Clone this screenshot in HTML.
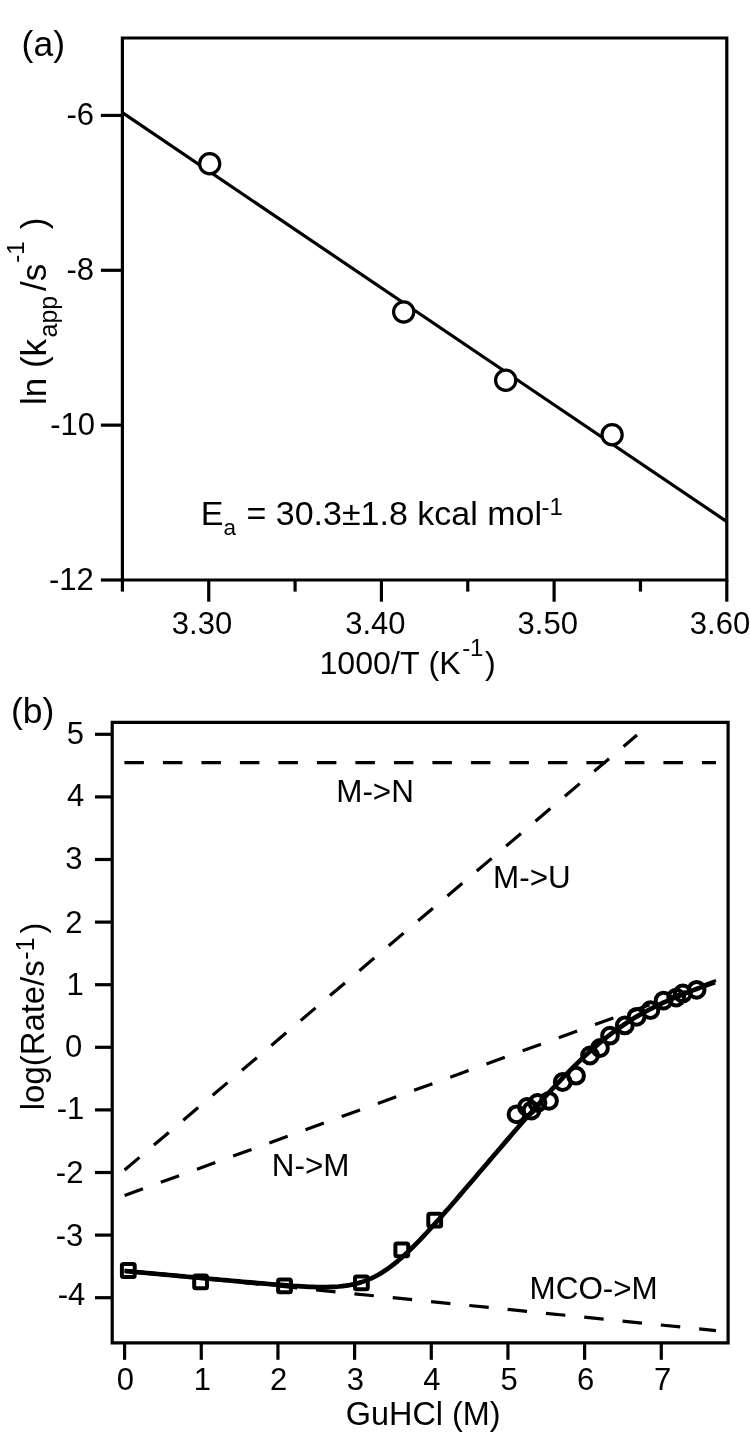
<!DOCTYPE html>
<html><head><meta charset="utf-8"><title>Figure</title>
<style>html,body{margin:0;padding:0;background:#fff;}svg{display:block;}text{font-kerning:none;}</style></head>
<body><svg width="750" height="1435" viewBox="0 0 750 1435" font-family="'Liberation Sans', Arial, Helvetica, sans-serif" fill="#000">
<rect width="750" height="1435" fill="#fff"/>
<path d="M122.4,580.0 V38.0 H726.8 V580.0 Z" fill="none" stroke="#000" stroke-width="3.2"/>
<line x1="122.40" y1="580.0" x2="122.40" y2="591.60" stroke="#000" stroke-width="3.2"/>
<line x1="208.74" y1="580.0" x2="208.74" y2="601.70" stroke="#000" stroke-width="3.2"/>
<line x1="295.09" y1="580.0" x2="295.09" y2="591.60" stroke="#000" stroke-width="3.2"/>
<line x1="381.43" y1="580.0" x2="381.43" y2="601.70" stroke="#000" stroke-width="3.2"/>
<line x1="467.77" y1="580.0" x2="467.77" y2="591.60" stroke="#000" stroke-width="3.2"/>
<line x1="554.11" y1="580.0" x2="554.11" y2="601.70" stroke="#000" stroke-width="3.2"/>
<line x1="640.46" y1="580.0" x2="640.46" y2="591.60" stroke="#000" stroke-width="3.2"/>
<line x1="726.80" y1="580.0" x2="726.80" y2="601.70" stroke="#000" stroke-width="3.2"/>
<line x1="100.9" y1="115.43" x2="122.4" y2="115.43" stroke="#000" stroke-width="3.2"/>
<line x1="100.9" y1="270.29" x2="122.4" y2="270.29" stroke="#000" stroke-width="3.2"/>
<line x1="100.9" y1="425.14" x2="122.4" y2="425.14" stroke="#000" stroke-width="3.2"/>
<line x1="100.9" y1="580.00" x2="122.4" y2="580.00" stroke="#000" stroke-width="3.2"/>
<line x1="122.4" y1="112.7" x2="726.8" y2="521.6" stroke="#000" stroke-width="3.2"/>
<circle cx="209.7" cy="163.8" r="10.1" fill="#fff" stroke="#000" stroke-width="3.2"/>
<circle cx="403.7" cy="312" r="10.1" fill="#fff" stroke="#000" stroke-width="3.2"/>
<circle cx="505.7" cy="380.3" r="10.1" fill="#fff" stroke="#000" stroke-width="3.2"/>
<circle cx="612.1" cy="434.7" r="10.1" fill="#fff" stroke="#000" stroke-width="3.2"/>
<text x="171.85" y="634.47" font-size="31">3.30</text>
<text x="345.20" y="634.27" font-size="31">3.40</text>
<text x="517.55" y="634.37" font-size="31">3.50</text>
<text x="689.80" y="634.37" font-size="31">3.60</text>
<text x="66.46" y="124.92" font-size="31">-6</text>
<text x="66.50" y="279.97" font-size="31">-8</text>
<text x="50.21" y="435.02" font-size="31">-10</text>
<text x="48.99" y="589.97" font-size="31">-12</text>
<text x="21.61" y="56.19" font-size="35.5">(a)</text>
<text><tspan x="319.39" y="674.00" font-size="32.2">1000/T (K</tspan><tspan x="462.13" y="656.40" font-size="24">-1</tspan><tspan x="485.01" y="674.00" font-size="32.2">)</tspan></text>
<text><tspan x="200.81" y="524.80" font-size="34">E</tspan><tspan x="223.44" y="534.90" font-size="22.5">a</tspan><tspan x="237.00" y="524.80" font-size="34"> = 30.3±1.8 kcal mol</tspan><tspan x="541.43" y="515.20" font-size="24">-1</tspan></text>
<text transform="translate(45.9,405) rotate(-90)"><tspan x="0.00" y="0.00" font-size="35">ln (k</tspan><tspan x="67.54" y="11.00" font-size="25">app</tspan><tspan x="114.10" y="0.00" font-size="35">/s</tspan><tspan x="142.33" y="-22.10" font-size="24">-1</tspan><tspan x="175.89" y="0.00" font-size="35">)</tspan></text>
<path d="M112.2,1342.9 V722.3 H728.1 V1342.9 Z" fill="none" stroke="#000" stroke-width="3.2"/>
<line x1="124.60" y1="1342.9" x2="124.60" y2="1359.8" stroke="#000" stroke-width="3.2"/>
<text x="116.78" y="1390.07" font-size="31">0</text>
<line x1="201.27" y1="1342.9" x2="201.27" y2="1359.8" stroke="#000" stroke-width="3.2"/>
<text x="193.84" y="1390.06" font-size="31">1</text>
<line x1="277.94" y1="1342.9" x2="277.94" y2="1359.8" stroke="#000" stroke-width="3.2"/>
<text x="269.98" y="1390.22" font-size="31">2</text>
<line x1="354.61" y1="1342.9" x2="354.61" y2="1359.8" stroke="#000" stroke-width="3.2"/>
<text x="346.87" y="1390.07" font-size="31">3</text>
<line x1="431.28" y1="1342.9" x2="431.28" y2="1359.8" stroke="#000" stroke-width="3.2"/>
<text x="423.28" y="1390.06" font-size="31">4</text>
<line x1="507.95" y1="1342.9" x2="507.95" y2="1359.8" stroke="#000" stroke-width="3.2"/>
<text x="500.41" y="1389.91" font-size="31">5</text>
<line x1="584.62" y1="1342.9" x2="584.62" y2="1359.8" stroke="#000" stroke-width="3.2"/>
<text x="577.07" y="1390.07" font-size="31">6</text>
<line x1="661.29" y1="1342.9" x2="661.29" y2="1359.8" stroke="#000" stroke-width="3.2"/>
<text x="653.96" y="1390.06" font-size="31">7</text>
<line x1="95" y1="1297.70" x2="112.2" y2="1297.70" stroke="#000" stroke-width="3.2"/>
<text x="57.78" y="1305.36" font-size="31">-4</text>
<line x1="95" y1="1235.10" x2="112.2" y2="1235.10" stroke="#000" stroke-width="3.2"/>
<text x="55.76" y="1245.97" font-size="31">-3</text>
<line x1="95" y1="1172.50" x2="112.2" y2="1172.50" stroke="#000" stroke-width="3.2"/>
<text x="55.86" y="1182.87" font-size="31">-2</text>
<line x1="95" y1="1109.90" x2="112.2" y2="1109.90" stroke="#000" stroke-width="3.2"/>
<text x="56.67" y="1118.66" font-size="31">-1</text>
<line x1="95" y1="1047.30" x2="112.2" y2="1047.30" stroke="#000" stroke-width="3.2"/>
<text x="64.88" y="1057.37" font-size="31">0</text>
<line x1="95" y1="984.70" x2="112.2" y2="984.70" stroke="#000" stroke-width="3.2"/>
<text x="66.54" y="995.41" font-size="31">1</text>
<line x1="95" y1="922.10" x2="112.2" y2="922.10" stroke="#000" stroke-width="3.2"/>
<text x="65.18" y="932.67" font-size="31">2</text>
<line x1="95" y1="859.50" x2="112.2" y2="859.50" stroke="#000" stroke-width="3.2"/>
<text x="65.27" y="869.22" font-size="31">3</text>
<line x1="95" y1="796.90" x2="112.2" y2="796.90" stroke="#000" stroke-width="3.2"/>
<text x="66.93" y="805.51" font-size="31">4</text>
<line x1="95" y1="734.30" x2="112.2" y2="734.30" stroke="#000" stroke-width="3.2"/>
<text x="66.86" y="744.31" font-size="31">5</text>
<text x="11.01" y="722.69" font-size="35.5">(b)</text>
<text x="345.87" y="1424.7" font-size="32.4">GuHCl (M)</text>
<text transform="translate(44.3,1110.2) rotate(-90)"><tspan x="0.00" y="0.00" font-size="32.9">log(Rate/s</tspan><tspan x="150.39" y="-10.30" font-size="25">-1</tspan><tspan x="176.71" y="0.00" font-size="32.5">)</tspan></text>
<line x1="124.4" y1="762.6" x2="716" y2="762.6" stroke="#000" stroke-width="3.2" stroke-dasharray="19.5 19"/>
<line x1="124.6" y1="1170" x2="637" y2="735" stroke="#000" stroke-width="3.2" stroke-dasharray="19.5 19"/>
<line x1="124.6" y1="1195.5" x2="716" y2="980.6" stroke="#000" stroke-width="3.2" stroke-dasharray="19.5 19"/>
<line x1="124.6" y1="1270.4" x2="716" y2="1330.6" stroke="#000" stroke-width="3.2" stroke-dasharray="19.5 19"/>
<polyline points="124.60,1270.99 128.29,1271.33 131.98,1271.66 135.67,1272.00 139.36,1272.34 143.05,1272.67 146.74,1273.01 150.43,1273.35 154.12,1273.69 157.81,1274.02 161.50,1274.36 165.19,1274.70 168.88,1275.03 172.57,1275.37 176.26,1275.71 179.95,1276.04 183.64,1276.38 187.33,1276.72 191.02,1277.05 194.71,1277.39 198.39,1277.73 202.08,1278.06 205.77,1278.40 209.46,1278.73 213.15,1279.07 216.84,1279.41 220.53,1279.74 224.22,1280.07 227.91,1280.41 231.60,1280.74 235.29,1281.07 238.98,1281.40 242.67,1281.73 246.36,1282.06 250.05,1282.39 253.74,1282.71 257.43,1283.04 261.12,1283.35 264.81,1283.67 268.50,1283.98 272.19,1284.29 275.88,1284.59 279.57,1284.89 283.26,1285.17 286.95,1285.45 290.64,1285.72 294.33,1285.97 298.02,1286.21 301.71,1286.43 305.40,1286.62 309.09,1286.79 312.78,1286.94 316.47,1287.04 320.16,1287.10 323.85,1287.12 327.54,1287.08 331.23,1286.97 334.92,1286.79 338.61,1286.52 342.29,1286.15 345.98,1285.67 349.67,1285.07 353.36,1284.33 357.05,1283.43 360.74,1282.37 364.43,1281.14 368.12,1279.71 371.81,1278.09 375.50,1276.26 379.19,1274.23 382.88,1271.99 386.57,1269.55 390.26,1266.91 393.95,1264.09 397.64,1261.08 401.33,1257.91 405.02,1254.59 408.71,1251.13 412.40,1247.55 416.09,1243.85 419.78,1240.06 423.47,1236.18 427.16,1232.23 430.85,1228.21 434.54,1224.14 438.23,1220.02 441.92,1215.85 445.61,1211.66 449.30,1207.44 452.99,1203.19 456.68,1198.92 460.37,1194.64 464.06,1190.34 467.75,1186.04 471.44,1181.72 475.13,1177.41 478.82,1173.08 482.51,1168.76 486.19,1164.44 489.88,1160.12 493.57,1155.80 497.26,1151.49 500.95,1147.18 504.64,1142.89 508.33,1138.60 512.02,1134.32 515.71,1130.06 519.40,1125.81 523.09,1121.58 526.78,1117.37 530.47,1113.19 534.16,1109.02 537.85,1104.88 541.54,1100.78 545.23,1096.70 548.92,1092.66 552.61,1088.67 556.30,1084.71 559.99,1080.81 563.68,1076.95 567.37,1073.15 571.06,1069.42 574.75,1065.74 578.44,1062.14 582.13,1058.60 585.82,1055.15 589.51,1051.77 593.20,1048.48 596.89,1045.28 600.58,1042.17 604.27,1039.15 607.96,1036.22 611.65,1033.39 615.34,1030.65 619.03,1028.01 622.72,1025.45 626.41,1023.00 630.09,1020.62 633.78,1018.34 637.47,1016.14 641.16,1014.02 644.85,1011.97 648.54,1010.00 652.23,1008.09 655.92,1006.24 659.61,1004.46 663.30,1002.73 666.99,1001.05 670.68,999.41 674.37,997.82 678.06,996.27 681.75,994.75 685.44,993.26 689.13,991.81 692.82,990.38 696.51,988.97 700.20,987.59 703.89,986.22 707.58,984.88 711.27,983.54 714.96,982.23" fill="none" stroke="#000" stroke-width="4.7" stroke-linejoin="round"/>
<rect x="121.90" y="1264.10" width="12.8" height="12.8" fill="none" stroke="#000" stroke-width="4" rx="1.5"/>
<rect x="194.20" y="1275.40" width="12.8" height="12.8" fill="none" stroke="#000" stroke-width="4" rx="1.5"/>
<rect x="278.10" y="1279.40" width="12.8" height="12.8" fill="none" stroke="#000" stroke-width="4" rx="1.5"/>
<rect x="355.00" y="1276.50" width="12.8" height="12.8" fill="none" stroke="#000" stroke-width="4" rx="1.5"/>
<rect x="395.40" y="1243.50" width="12.8" height="12.8" fill="none" stroke="#000" stroke-width="4" rx="1.5"/>
<rect x="428.30" y="1213.70" width="12.8" height="12.8" fill="none" stroke="#000" stroke-width="4" rx="1.5"/>
<circle cx="516.5" cy="1114.3" r="7.9" fill="none" stroke="#000" stroke-width="4.0"/>
<circle cx="527" cy="1107" r="7.9" fill="none" stroke="#000" stroke-width="4.0"/>
<circle cx="531.5" cy="1110.5" r="7.9" fill="none" stroke="#000" stroke-width="4.0"/>
<circle cx="537.5" cy="1103" r="7.9" fill="none" stroke="#000" stroke-width="4.0"/>
<circle cx="549" cy="1100.8" r="7.9" fill="none" stroke="#000" stroke-width="4.0"/>
<circle cx="562.7" cy="1082" r="7.9" fill="none" stroke="#000" stroke-width="4.0"/>
<circle cx="576" cy="1075.7" r="7.9" fill="none" stroke="#000" stroke-width="4.0"/>
<circle cx="590" cy="1055.5" r="7.9" fill="none" stroke="#000" stroke-width="4.0"/>
<circle cx="600" cy="1048" r="7.9" fill="none" stroke="#000" stroke-width="4.0"/>
<circle cx="610" cy="1035.7" r="7.9" fill="none" stroke="#000" stroke-width="4.0"/>
<circle cx="624.8" cy="1025.4" r="7.9" fill="none" stroke="#000" stroke-width="4.0"/>
<circle cx="636.6" cy="1016.8" r="7.9" fill="none" stroke="#000" stroke-width="4.0"/>
<circle cx="650.4" cy="1010.2" r="7.9" fill="none" stroke="#000" stroke-width="4.0"/>
<circle cx="663.6" cy="1000.6" r="7.9" fill="none" stroke="#000" stroke-width="4.0"/>
<circle cx="676.2" cy="997.6" r="7.9" fill="none" stroke="#000" stroke-width="4.0"/>
<circle cx="682.8" cy="993.4" r="7.9" fill="none" stroke="#000" stroke-width="4.0"/>
<circle cx="696.6" cy="989.8" r="7.9" fill="none" stroke="#000" stroke-width="4.0"/>
<text x="336.28" y="801.65" font-size="31.4">M-&gt;N</text>
<text x="493.11" y="887.80" font-size="31.4">M-&gt;U</text>
<text x="271.84" y="1175.80" font-size="31.4">N-&gt;M</text>
<text x="529.60" y="1298.81" font-size="31.4">MCO-&gt;M</text>
</svg></body></html>
